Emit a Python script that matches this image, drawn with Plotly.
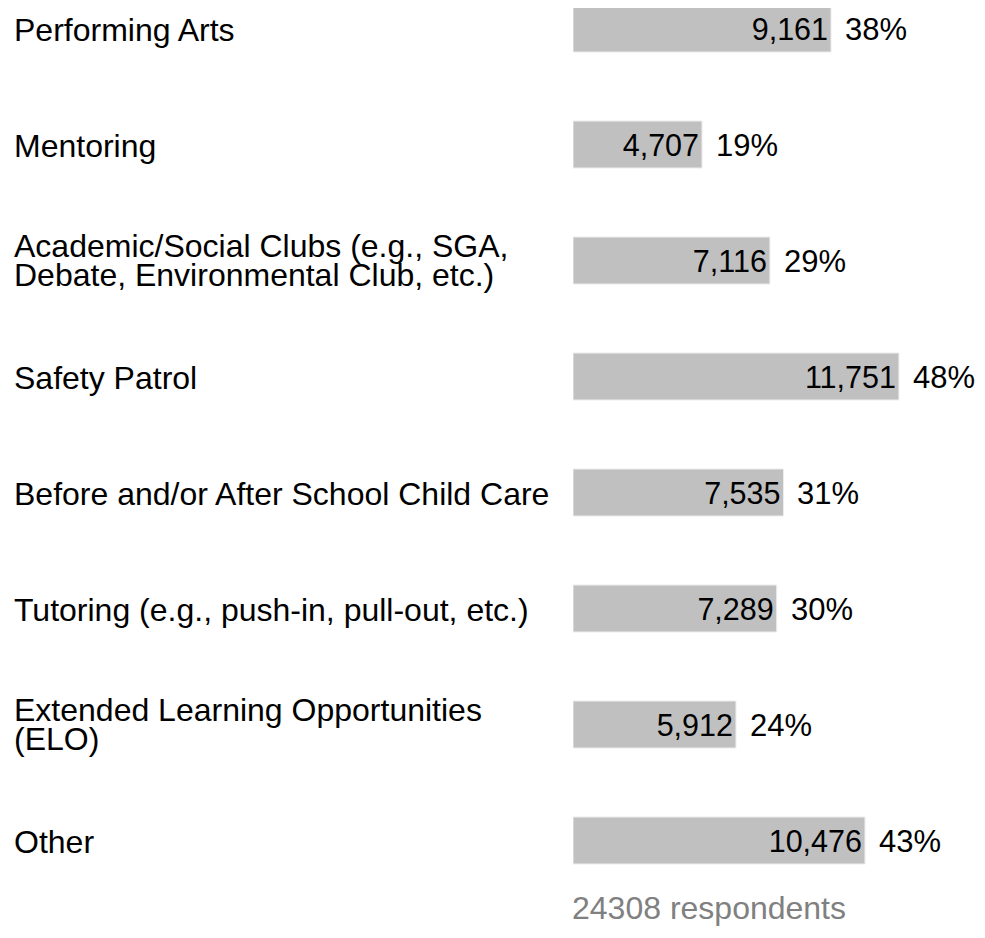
import plotly.graph_objects as go

categories = [
    ["Performing Arts"],
    ["Mentoring"],
    ["Academic/Social Clubs (e.g., SGA,", "Debate, Environmental Club, etc.)"],
    ["Safety Patrol"],
    ["Before and/or After School Child Care"],
    ["Tutoring (e.g., push-in, pull-out, etc.)"],
    ["Extended Learning Opportunities", "(ELO)"],
    ["Other"],
]
counts = [9161, 4707, 7116, 11751, 7535, 7289, 5912, 10476]
percents = [38, 19, 29, 48, 31, 30, 24, 43]
respondents = 24308

# page body has an 8px margin; figure sized to fit inside it
OFF = 8
W, H = 969, 922
FONT = "Liberation Sans, Arial, sans-serif"
FS_LABEL = 32
FS_VAL = 30.5
FS_PCT = 31

px_per_row = 116.0
first_center = 28.5 - OFF
y_top = -first_center / px_per_row
y_bot = (H - first_center) / px_per_row

x0_px = 573 - OFF
px_per_pct = 6.79
x_max = (W - x0_px) / px_per_pct

ypos = list(range(len(categories)))

fig = go.Figure()
fig.add_trace(go.Bar(
    x=percents,
    y=ypos,
    orientation="h",
    width=47 / px_per_row,
    marker=dict(color="#c0c0c0", line=dict(color="#ececec", width=1)),
    text=[f"{c:,}" for c in counts],
    textposition="inside",
    insidetextanchor="end",
    textangle=0,
    constraintext="none",
    textfont=dict(family=FONT, size=FS_VAL, color="#000000"),
    hoverinfo="skip",
))

annotations = []
for i, lines in enumerate(categories):
    offs = [1.0] if len(lines) == 1 else [-15.0, 14.5]
    for line, o in zip(lines, offs):
        annotations.append(dict(
            x=(15 - OFF) / W, xref="paper", xanchor="left", xshift=-3,
            y=i + o / px_per_row, yref="y", yanchor="middle",
            text=line, showarrow=False,
            font=dict(family=FONT, size=FS_LABEL, color="#000000"),
        ))
for i, p in enumerate(percents):
    annotations.append(dict(
        x=p, xref="x", xanchor="left", xshift=12,
        y=i + 1 / px_per_row, yref="y", yanchor="middle",
        text=f"{p}%", showarrow=False,
        font=dict(family=FONT, size=FS_PCT, color="#000000"),
    ))
annotations.append(dict(
    x=0, xref="x", xanchor="left", xshift=-3,
    y=(908 - OFF - first_center) / px_per_row, yref="y", yanchor="middle",
    text=f"{respondents} respondents", showarrow=False,
    font=dict(family=FONT, size=FS_LABEL, color="#808080"),
))

fig.update_layout(
    width=W, height=H,
    margin=dict(l=0, r=0, t=0, b=0),
    paper_bgcolor="white", plot_bgcolor="white",
    showlegend=False,
    xaxis=dict(domain=[x0_px / W, 1], range=[0, x_max], visible=False, fixedrange=True),
    yaxis=dict(range=[y_bot, y_top], visible=False, fixedrange=True),
    annotations=annotations,
)

fig.write_html("out.html")
